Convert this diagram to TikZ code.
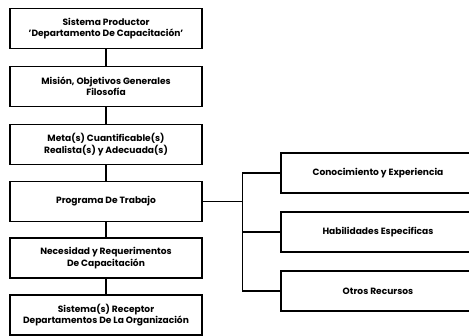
\documentclass[tikz,border=0pt]{standalone}
\usepackage{fontspec}
\setmainfont{Poppins}
\usetikzlibrary{positioning}

\tikzset{
  box/.style={draw=black, line width=1.4pt, minimum width=192pt, minimum height=40pt,
    inner sep=1pt, align=center, font=\bfseries\fontsize{9.1}{11.4}\selectfont},
  link/.style={draw=black, line width=1.4pt}
}

\begin{document}
\begin{tikzpicture}[x=1pt,y=-1pt]
\useasboundingbox (0,0) rectangle (469,336);
\clip (0,0) rectangle (469,336);
%left column:
\node[box] (prod) at (106,28.5) {Sistema Productor\\'Departamento De Capacitación'};
\node[box] (mision) at (106,86.5) {Misión, Objetivos Generales\\Filosofía};
\node[box] (meta) at (106,144.5) {Meta(s) Cuantificable(s)\\Realista(s) y Adecuada(s)};
\node[box] (prog) at (106,201.5) {Programa De Trabajo};
\node[box] (nec) at (106,258) {Necesidad y Requerimentos\\De Capacitación};
\node[box] (rec) at (106,315) {Sistema(s) Receptor\\Departamentos De La Organización};
%right column:
\node[box, minimum width=194pt] (con) at (378,173) {Conocimiento y Experiencia};
\node[box, minimum width=194pt] (hab) at (378,232) {Habilidades Especificas};
\node[box, minimum width=194pt] (otros) at (378,291) {Otros Recursos};
%links
\draw[link] (prod) -- (mision);
\draw[link] (mision) -- (meta);
\draw[link] (meta) -- (prog);
\draw[link] (prog) -- (nec);
\draw[link] (nec) -- (rec);
\draw[link] (prog.east) -- ++(40,0) coordinate (bus);
\draw[link] (con.west) -- (con.west -| bus) |- (otros.west);
\draw[link] (hab.west) -- (hab.west -| bus);
\end{tikzpicture}
\end{document}
